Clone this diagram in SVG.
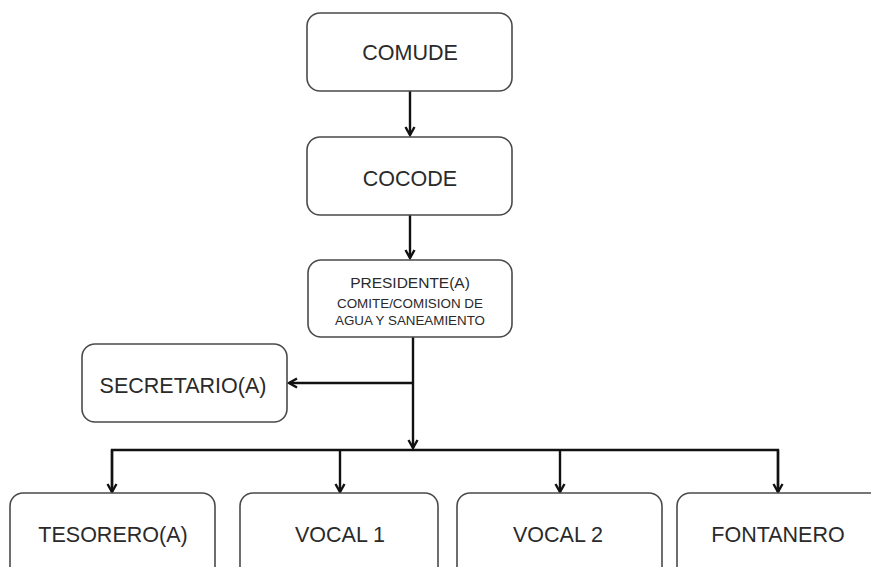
<svg xmlns="http://www.w3.org/2000/svg" width="871" height="567" viewBox="0 0 871 567">
<style>
.box{fill:#fff;stroke:#4a4a4a;stroke-width:1.6}
.t{font-family:"Liberation Sans",Arial,sans-serif;fill:#2a2a2a;text-anchor:middle}
.big{font-size:21.5px}
.c{fill:none;stroke:#111;stroke-width:2.4}
</style>
<defs>
<marker id="ah" viewBox="0 0 12 12" refX="10" refY="6" markerWidth="12" markerHeight="12" markerUnits="userSpaceOnUse" orient="auto">
<path d="M2,1.5 L10,6 L2,10.5" fill="none" stroke="#111" stroke-width="2.4"/>
</marker>
</defs>
<rect width="871" height="567" fill="#fff"/>
<g id="connectors">
<line class="c" x1="410" y1="91" x2="410" y2="135" marker-end="url(#ah)"/>
<line class="c" x1="410" y1="215" x2="410" y2="258" marker-end="url(#ah)"/>
<line class="c" x1="413" y1="337" x2="413" y2="448" marker-end="url(#ah)"/>
<line class="c" x1="413" y1="383" x2="289" y2="383" marker-end="url(#ah)"/>
<polyline class="c" points="112,492 112,450 778,450 778,492"/>
<line class="c" x1="112" y1="450" x2="112" y2="492" marker-end="url(#ah)"/>
<line class="c" x1="340" y1="450" x2="340" y2="492" marker-end="url(#ah)"/>
<line class="c" x1="560" y1="450" x2="560" y2="492" marker-end="url(#ah)"/>
<line class="c" x1="778" y1="450" x2="778" y2="492" marker-end="url(#ah)"/>
</g>
<g id="comude">
<rect class="box" x="307" y="13" width="205" height="78" rx="13"/>
<text class="t big" x="410" y="60">COMUDE</text>
</g>
<g id="cocode">
<rect class="box" x="307" y="137" width="205" height="78" rx="13"/>
<text class="t big" x="410" y="186">COCODE</text>
</g>
<g id="presidente">
<rect class="box" x="308" y="260" width="204" height="77" rx="13"/>
<text class="t" x="410" y="288" font-size="15.5">PRESIDENTE(A)</text>
<text class="t" x="410" y="308" font-size="13" textLength="146" lengthAdjust="spacingAndGlyphs">COMITE/COMISION DE</text>
<text class="t" x="410" y="325" font-size="13" textLength="150" lengthAdjust="spacingAndGlyphs">AGUA Y SANEAMIENTO</text>
</g>
<g id="secretario">
<rect class="box" x="82" y="344" width="205" height="78" rx="13"/>
<text class="t big" x="183" y="393">SECRETARIO(A)</text>
</g>
<g id="tesorero">
<rect class="box" x="10" y="493" width="205" height="100" rx="13"/>
<text class="t big" x="113" y="542">TESORERO(A)</text>
</g>
<g id="vocal1">
<rect class="box" x="240" y="493" width="198" height="100" rx="13"/>
<text class="t big" x="340" y="542">VOCAL 1</text>
</g>
<g id="vocal2">
<rect class="box" x="457" y="493" width="205" height="100" rx="13"/>
<text class="t big" x="558" y="542">VOCAL 2</text>
</g>
<g id="fontanero">
<rect class="box" x="677" y="493" width="220" height="100" rx="13"/>
<text class="t big" x="778" y="542">FONTANERO</text>
</g>
</svg>
